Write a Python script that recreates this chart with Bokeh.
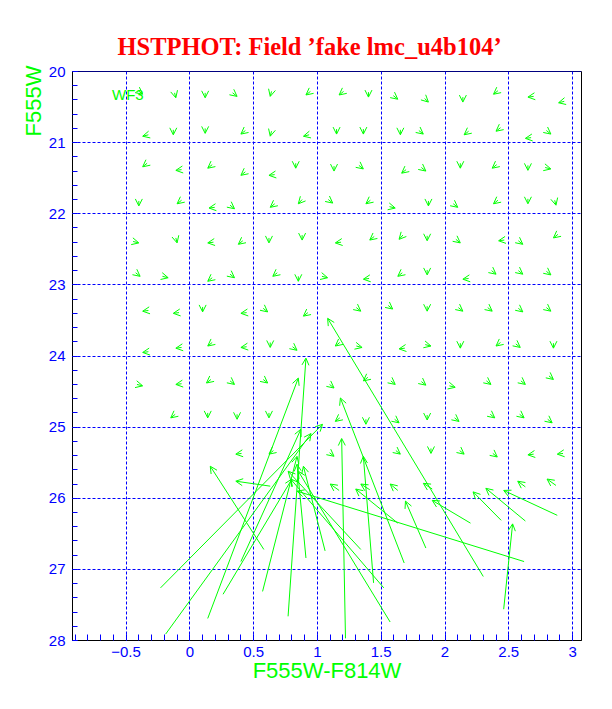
import numpy as np
from bokeh.plotting import figure
from bokeh.models import (Arrow, OpenHead, ColumnDataSource, Range1d, FixedTicker,
                          Label, Span, Title)
from bokeh.embed import file_html
from bokeh.resources import INLINE

# ---------------- data ----------------
title_text = "HSTPHOT: Field \u2019fake lmc_u4b104\u2019"
x_label = "F555W-F814W"
y_label = "F555W"
chip_label = "WF3"

x_ticks = [-0.5, 0, 0.5, 1, 1.5, 2, 2.5, 3]
x_tick_labels = ["\u22120.5", "0", "0.5", "1", "1.5", "2", "2.5", "3"]
y_ticks = [20, 21, 22, 23, 24, 25, 26, 27, 28]
y_tick_labels = ["20", "21", "22", "23", "24", "25", "26", "27", "28"]

# small shifts: recovered colour / magnitude (arrow heads) and shift (out - in)
small_col_out = [
    -0.37, -0.11, 0.12, 0.37, 0.63, 0.91, 1.17, 1.40, 1.63, 1.87, 2.14, 2.38, 2.65, 2.89,
    -0.37, -0.13, 0.12, 0.40, 0.63, 0.89, 1.15, 1.36, 1.65, 1.83, 2.15, 2.40, 2.63, 2.83,
    -0.37, -0.11, 0.14, 0.40, 0.62, 0.83, 1.13, 1.36, 1.66, 1.85, 2.12, 2.37, 2.65, 2.83,
    -0.40, -0.10, 0.15, 0.35, 0.63, 0.85, 1.12, 1.38, 1.61, 1.87, 2.10, 2.38, 2.65, 2.87,
    -0.40, -0.10, 0.14, 0.38, 0.62, 0.88, 1.14, 1.41, 1.64, 1.86, 2.12, 2.42, 2.61, 2.85,
    -0.39, -0.17, 0.14, 0.35, 0.65, 0.85, 1.08, 1.36, 1.63, 1.86, 2.14, 2.40, 2.61, 2.83,
    -0.37, -0.13, 0.10, 0.40, 0.61, 0.89, 1.34, 1.59, 1.86, 2.14, 2.37, 2.61, 2.83,
    -0.37, -0.11, 0.14, 0.40, 0.63, 0.84, 1.14, 1.35, 1.64, 1.89, 2.12, 2.40, 2.59, 2.85,
    -0.37, -0.11, 0.13, 0.35, 0.61, 1.13, 1.36, 1.61, 1.85, 2.08, 2.36, 2.63, 2.85,
    -0.15, 0.14, 0.37, 0.62, 1.14, 1.38, 1.64, 1.86, 2.11, 2.39, 2.62, 2.84,
    0.36, 0.62, 1.13, 1.65, 1.89, 2.15, 2.41, 2.65, 2.88,
    1.10, 1.34, 1.57, 1.83, 2.57, 2.80,
]
small_mag_out = [
    20.32, 20.37, 20.37, 20.35, 20.35, 20.33, 20.33, 20.36, 20.39, 20.43, 20.43, 20.32, 20.36, 20.44,
    20.91, 20.89, 20.87, 20.88, 20.91, 20.91, 20.88, 20.88, 20.89, 20.88, 20.89, 20.84, 20.94, 20.88,
    21.34, 21.39, 21.36, 21.46, 21.46, 21.36, 21.40, 21.37, 21.43, 21.40, 21.36, 21.36, 21.39, 21.37,
    21.89, 21.86, 21.92, 21.93, 21.91, 21.86, 21.85, 21.86, 21.92, 21.89, 21.91, 21.86, 21.86, 21.88,
    22.41, 22.41, 22.41, 22.43, 22.41, 22.37, 22.41, 22.37, 22.36, 22.38, 22.41, 22.38, 22.43, 22.34,
    22.88, 22.90, 22.95, 22.90, 22.88, 22.95, 22.90, 22.92, 22.88, 22.86, 22.92, 22.85, 22.85, 22.86,
    23.37, 23.40, 23.38, 23.40, 23.38, 23.44, 23.37, 23.34, 23.37, 23.37, 23.37, 23.38, 23.37,
    23.95, 23.89, 23.86, 23.88, 23.88, 23.92, 23.86, 23.88, 23.90, 23.86, 23.89, 23.86, 23.88, 23.89,
    24.42, 24.40, 24.38, 24.40, 24.38, 24.45, 24.35, 24.40, 24.41, 24.44, 24.40, 24.40, 24.33,
    24.87, 24.87, 24.89, 24.87, 24.92, 24.96, 24.94, 24.90, 24.92, 24.87, 24.87, 24.94,
    25.38, 25.38, 25.41, 25.38, 25.37, 25.38, 25.42, 25.39, 25.38,
    25.80, 25.80, 25.80, 25.79, 25.76, 25.73,
]
small_dcol = [
    0.035, 0.01, 0.0, 0.035, -0.01, -0.035, -0.035, 0.0, 0.035, 0.03, 0.0, -0.035, -0.045, -0.045,
    -0.045, 0.0, 0.0, -0.035, -0.01, -0.045, 0.0, 0.0, 0.0, 0.035, -0.035, -0.035, -0.045, 0.035,
    -0.035, -0.045, -0.035, -0.035, -0.045, 0.0, 0.0, 0.035, -0.035, 0.035, 0.0, -0.035, 0.0, 0.045,
    0.0, -0.035, -0.045, 0.035, -0.035, -0.03, 0.035, -0.035, 0.045, 0.0, 0.035, -0.035, 0.0, 0.01,
    0.045, 0.01, -0.045, -0.035, 0.0, 0.0, -0.045, -0.035, -0.03, 0.0, 0.035, -0.045, 0.035, -0.035,
    0.035, 0.045, -0.035, 0.035, -0.035, 0.0, 0.045, -0.045, -0.035, 0.0, -0.045, 0.035, 0.035, 0.035,
    -0.045, -0.045, 0.0, -0.045, 0.035, -0.035, 0.035, 0.035, 0.0, 0.035, 0.035, 0.035, 0.035,
    -0.045, -0.045, -0.035, -0.045, 0.0, 0.035, -0.035, 0.045, -0.045, 0.045, 0.0, -0.035, 0.035, 0.0,
    0.045, -0.045, -0.035, 0.035, 0.035, 0.035, -0.035, 0.035, 0.035, 0.045, 0.035, 0.035, 0.035,
    -0.035, 0.0, 0.0, 0.0, -0.035, 0.0, 0.035, 0.0, 0.035, 0.035, 0.035, 0.035,
    -0.045, -0.035, 0.035, 0.035, 0.0, 0.035, 0.035, -0.045, -0.045,
    -0.07, -0.07, -0.06, -0.07, -0.06, -0.07,
]
small_dmag = [
    0.05, 0.07, 0.07, 0.05, 0.07, 0.05, 0.05, 0.07, 0.05, 0.05, 0.07, 0.05, 0.01, 0.02,
    0.02, 0.07, 0.07, 0.05, 0.07, 0.02, 0.07, 0.07, 0.07, 0.05, 0.05, 0.05, 0.01, 0.05,
    0.05, 0.01, 0.05, 0.05, 0.01, 0.07, 0.07, 0.05, 0.05, 0.05, 0.07, 0.05, 0.07, 0.02,
    0.07, 0.05, 0.01, 0.05, 0.05, 0.06, 0.05, 0.05, 0.02, 0.07, 0.05, 0.05, 0.07, 0.07,
    0.02, 0.07, 0.01, 0.05, 0.07, 0.07, 0.01, 0.05, 0.06, 0.07, 0.05, 0.01, 0.05, 0.05,
    0.05, 0.02, 0.05, 0.05, 0.05, 0.07, 0.02, 0.01, 0.05, 0.07, 0.01, 0.05, 0.05, 0.05,
    0.01, 0.01, 0.07, 0.01, 0.05, 0.05, 0.05, 0.05, 0.07, 0.05, 0.05, 0.05, 0.05,
    0.01, 0.01, 0.05, 0.01, 0.07, 0.05, 0.05, 0.02, 0.01, 0.02, 0.07, 0.05, 0.05, 0.07,
    0.02, 0.01, 0.05, 0.05, 0.05, 0.05, 0.05, 0.05, 0.05, 0.02, 0.05, 0.05, 0.05,
    0.05, 0.07, 0.07, 0.07, 0.05, 0.07, 0.05, 0.07, 0.05, 0.05, 0.05, 0.05,
    0.01, 0.05, 0.05, 0.05, 0.07, 0.05, 0.05, 0.01, 0.01,
    -0.09, -0.08, -0.09, -0.08, -0.08, -0.09,
]

# large shifts (blends): input and recovered positions
long_col_in = [-0.23, -0.19, 0.14, 0.26, 0.57, 0.77, 0.91, 1.06, 0.58, 0.63, 1.22, 1.44, 1.57,
               1.52, 1.68, 2.30, 2.62, 1.63, 1.85, 2.20, 2.63, 2.44, 2.88, 2.46, 1.34, 0.40]
long_mag_in = [27.26, 27.91, 27.69, 27.35, 27.31, 27.66, 26.84, 26.74, 26.72, 25.83, 27.97, 27.19, 27.74,
               27.26, 26.91, 27.10, 26.89, 26.35, 26.70, 26.35, 26.32, 26.31, 26.24, 27.56, 26.72, 26.89]
long_col_out = [1.04, 0.95, 0.85, 0.80, 0.84, 0.91, 0.84, 0.89, 0.16, 0.36, 1.19, 1.36, 0.85,
                0.79, 1.18, 1.08, 0.84, 1.30, 1.69, 1.90, 2.32, 2.22, 2.46, 2.53, 0.77, 0.87]
long_mag_out = [24.96, 25.09, 24.31, 25.73, 25.41, 24.03, 25.52, 25.55, 25.55, 25.76, 25.16, 25.41, 25.62,
                25.73, 24.59, 23.47, 25.90, 25.87, 26.04, 26.03, 25.86, 25.91, 25.89, 26.36, 25.62, 25.03]

# ---------------- figure ----------------
GREEN = "#00ff00"
BLUE = "#0000ff"

p = figure(width=596, height=693, x_range=Range1d(-0.92, 3.07), y_range=Range1d(28, 20),
           output_backend="svg", toolbar_location=None,
           min_border_left=72, min_border_right=15, min_border_top=71, min_border_bottom=53)
p.background_fill_color = "white"
p.border_fill_color = "white"
p.outline_line_color = "black"
p.outline_line_width = 1

p.title.text = title_text
p.title.align = "left"
p.title.offset = 45
p.title.standoff = 23
p.title.text_font = "Liberation Serif"
p.title.text_font_style = "bold"
p.title.text_font_size = "24.5px"
p.title.text_color = "#ff0000"

x_minor = [round(v, 2) for v in np.arange(-0.9, 3.05, 0.1)]
y_minor = [round(v, 2) for v in np.arange(20.0, 28.01, 0.2)]
p.xaxis.ticker = FixedTicker(ticks=x_ticks, minor_ticks=x_minor)
p.yaxis.ticker = FixedTicker(ticks=y_ticks, minor_ticks=y_minor)
p.xaxis.major_label_overrides = {t: l for t, l in zip(x_ticks, x_tick_labels)}
p.yaxis.major_label_overrides = {t: l for t, l in zip(y_ticks, y_tick_labels)}

for ax in (p.xaxis[0], p.yaxis[0]):
    ax.axis_line_color = "black"
    ax.major_tick_line_color = BLUE
    ax.minor_tick_line_color = BLUE
    ax.major_tick_out = 0
    ax.minor_tick_out = 0
    ax.major_label_text_color = BLUE
    ax.major_label_text_font = "Liberation Sans"
    ax.major_label_text_font_size = "15px"
p.xaxis.major_tick_in = 6
p.xaxis.minor_tick_in = 6
p.yaxis.major_tick_in = 5
p.yaxis.minor_tick_in = 5
p.xaxis.major_label_standoff = 6
p.yaxis.major_label_standoff = 7

p.xaxis.axis_label = x_label
p.xaxis.axis_label_text_font = "Liberation Sans"
p.xaxis.axis_label_text_font_style = "normal"
p.xaxis.axis_label_text_font_size = "22px"
p.xaxis.axis_label_text_color = GREEN
p.xaxis.axis_label_standoff = -2

p.grid.grid_line_color = BLUE
p.grid.grid_line_dash = "3 2"
p.grid.grid_line_width = 1

p.add_layout(Span(location=20, dimension="width", line_color=BLUE, line_width=1))

# y label near the top end of the axis (side title on the left)
p.add_layout(Title(text=y_label, align="right", offset=-6, standoff=0,
                   text_font="Liberation Sans", text_font_style="normal",
                   text_font_size="22px", text_color=GREEN), "left")

p.add_layout(Label(x=-0.61, y=20.32, text=chip_label, text_align="left",
                   text_baseline="alphabetic", text_font="Liberation Sans",
                   text_font_size="15px", text_color=GREEN))

sc_out = np.array(small_col_out)
sm_out = np.array(small_mag_out)
small_src = ColumnDataSource(dict(x0=sc_out - np.array(small_dcol), y0=sm_out - np.array(small_dmag),
                                  x1=sc_out, y1=sm_out))
long_src = ColumnDataSource(dict(x0=long_col_in, y0=long_mag_in, x1=long_col_out, y1=long_mag_out))

for src in (small_src, long_src):
    p.add_layout(Arrow(end=OpenHead(size=7, line_color=GREEN, line_width=1),
                       x_start="x0", y_start="y0", x_end="x1", y_end="y1",
                       line_color=GREEN, line_width=1, source=src))

open("out.html", "w").write(file_html(p, INLINE))
